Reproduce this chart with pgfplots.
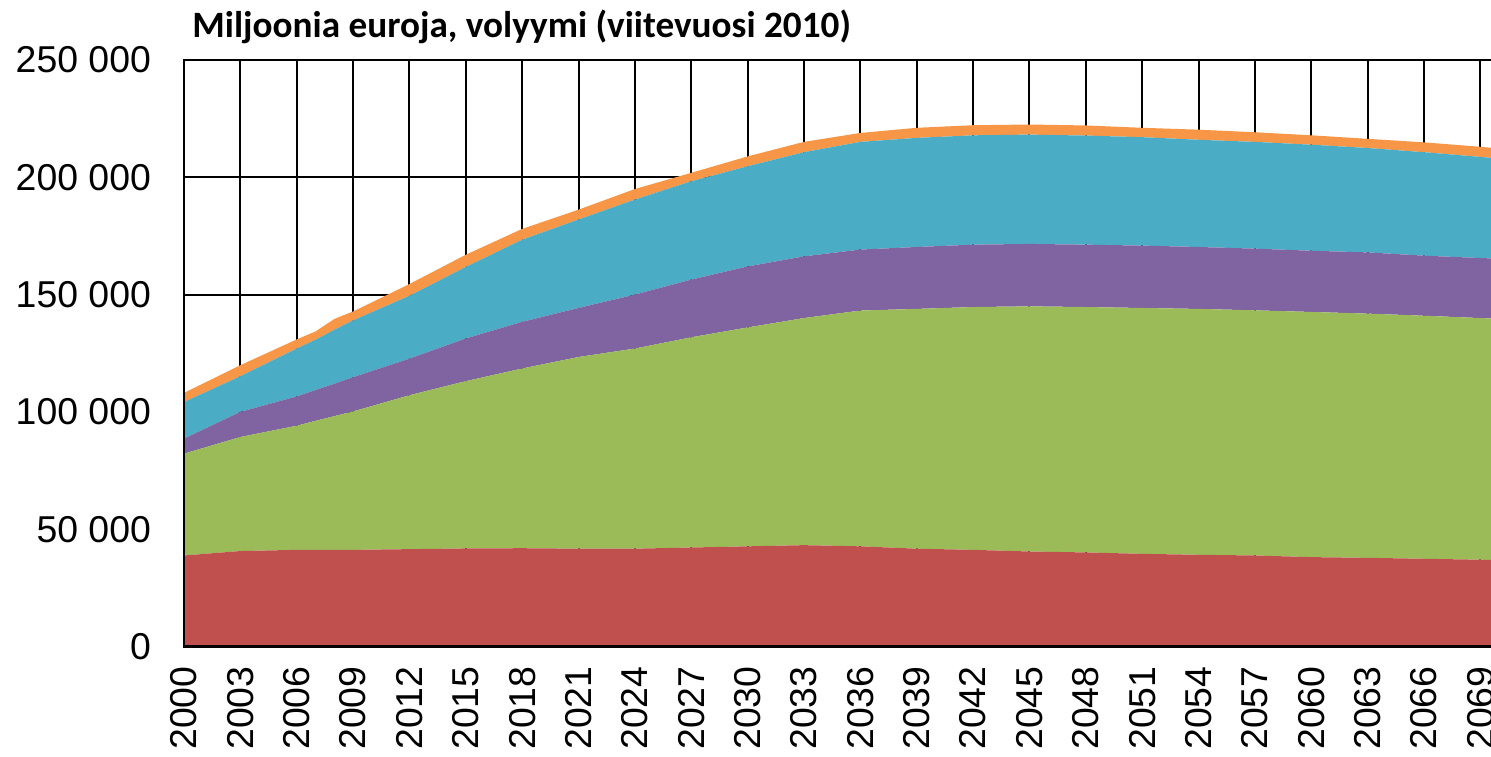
\documentclass[border=0pt]{standalone}
\usepackage{fontspec}
\setmainfont{Liberation Sans}
\newfontfamily\titlefont{Carlito}
\usepackage{pgfplots}
\usepackage{pgfplotstable}
\pgfplotsset{compat=1.18}

\definecolor{cRed}{HTML}{C0504D}
\definecolor{cGreen}{HTML}{9BBB59}
\definecolor{cPurple}{HTML}{8064A2}
\definecolor{cTeal}{HTML}{4BACC6}
\definecolor{cOrange}{HTML}{F79646}

% components in thousands of million euros, stacked bottom to top
\pgfplotstableread{
year red green purple teal orange
2000 38.8 43.4  6.4 15.6 3.9
2003 40.7 48.6 10.7 15.2 4.7
2006 41.2 52.9 12.5 20.4 3.9
2007 41.2 55.0 13.1 21.5 3.5
2008 41.2 57.0 13.8 23.0 4.6
2009 41.2 59.0 14.6 24.2 3.8
2012 41.5 65.6 15.6 26.8 5.0
2015 41.8 71.3 18.2 30.5 5.2
2018 41.9 76.6 19.9 35.0 4.6
2021 41.7 81.7 20.9 37.7 4.2
2024 41.7 85.3 23.0 40.5 4.5
2027 42.2 89.6 24.6 41.9 3.6
2030 42.7 93.3 26.0 42.7 4.2
2033 43.2 96.8 26.3 44.4 4.4
2036 42.7 100.5 26.0 45.9 3.8
2039 41.7 102.2 26.4 46.5 4.3
2042 41.2 103.5 26.6 46.6 4.3
2045 40.5 104.5 26.6 46.6 4.3
2048 40.1 104.6 26.6 46.5 4.3
2051 39.5 104.8 26.6 46.2 4.0
2054 39.1 104.8 26.4 45.7 4.3
2057 38.8 104.5 26.3 45.5 4.1
2060 38.1 104.5 26.1 45.2 4.0
2063 37.8 104.1 26.1 44.5 3.9
2066 37.4 103.6 25.6 44.1 4.2
2069 37.0 103.0 25.6 43.1 4.3
2070 36.9 102.8 25.6 42.7 4.3
}\data

\begin{document}
\begin{tikzpicture}
\begin{axis}[
  at={(0,0)}, anchor=south west,
  width=653.5pt, height=293.25pt, scale only axis,
  xmin=2000, xmax=2069.57, ymin=0, ymax=250,
  xtick={2000,2003,...,2069},
  ytick={0,50,...,250},
  yticklabels={0,{50 000},{100 000},{150 000},{200 000},{250 000}},
  /pgf/number format/assume math mode=true,
  x tick label style={/pgf/number format/1000 sep={}, yshift=-6.5pt, rotate=90, anchor=east},
  y tick label style={anchor=east, xshift=-13pt},
  tick label style={font=\fontsize{18.7}{22}\selectfont},
  major tick length=0pt,
  axis line style={draw=none},
  grid=major, grid style={black, line width=1pt},
  stack plots=y, area style, axis on top=false,
]
\addplot[fill=cRed, draw=none] table[x=year, y=red] {\data} \closedcycle;
\addplot[fill=cGreen, draw=none] table[x=year, y=green] {\data} \closedcycle;
\addplot[fill=cPurple, draw=none] table[x=year, y=purple] {\data} \closedcycle;
\addplot[fill=cTeal, draw=none] table[x=year, y=teal] {\data} \closedcycle;
\addplot[fill=cOrange, draw=none] table[x=year, y=orange] {\data} \closedcycle;
\end{axis}
% frame lines over the areas
\draw[line width=1.4pt] (653.5pt,293.25pt) -- (0,293.25pt) -- (0,0) -- (653.5pt,0);
\node[anchor=base west, inner sep=0pt, font=\titlefont\bfseries\fontsize{18.6}{22}\selectfont]
  at (4pt,304.6pt) {Miljoonia euroja, volyymi (viitevuosi 2010)};
\pgfresetboundingbox
\path (-92pt,-54.75pt) rectangle (653.5pt,323.25pt);
\end{tikzpicture}
\end{document}
